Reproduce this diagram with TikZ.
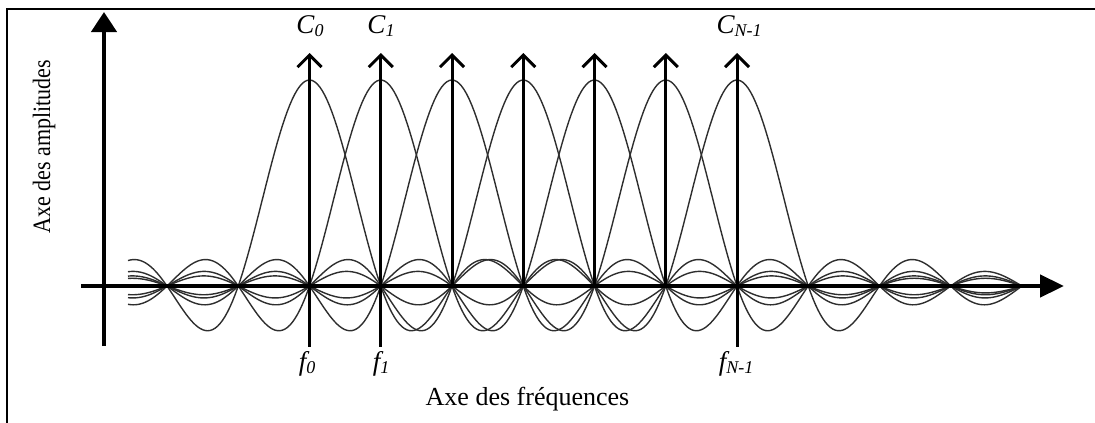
\documentclass[tikz,border=0pt]{standalone}
\usepackage{fontspec}
\setmainfont{Liberation Serif}
\usetikzlibrary{arrows.meta}
\newcommand\lowsub[1]{\raisebox{-3.5pt}{\fontsize{18}{18}\selectfont #1}}
\tikzset{
  sinccurve/.style={line width=1.4pt, draw=black!82, line join=round},
  carrier/.style={line width=3pt, -{Straight Barb[length=12pt,width=24pt]}},
  carrierstub/.style={line width=3pt},
  axisline/.style={line width=4.5pt},
  framebar/.style={line width=2.2pt},
  toplab/.style={font=\fontsize{27}{27}\selectfont\itshape, anchor=base, inner sep=0pt},
  axlab/.style={font=\fontsize{26}{26}\selectfont, anchor=base, inner sep=0pt}
}
\begin{document}
\begin{tikzpicture}[x=1pt,y=-1pt,
  declare function={sinc(\u)=(abs(\u)<0.02)*(1-(pi*\u)*(pi*\u)/6)+(abs(\u)>=0.02)*sin(180*\u)/(pi*\u+(abs(\u)<0.02));}]
\useasboundingbox (0,0) rectangle (1095,423);
% frame (top and left edges)
\coordinate (fa) at (6.8,423);
\coordinate (fb) at (6.8,8.8);
\coordinate (fc) at (1095,8.8);
\draw[framebar] (fa) -- (fb) -- (fc);
% sinc curves
\foreach \k in {0,...,6}{
  \pgfmathsetmacro\c{309.5+71.25*\k}
  \draw[sinccurve] plot[domain=128:1022, samples=360] (\x, {286-206*sinc((\x-\c)/71.25)});
}
% axes
\coordinate (xa) at (81,286);
\coordinate (xb) at (1064,286);
\coordinate (ya) at (104,346);
\coordinate (yb) at (104,12);
\draw[axisline, -{Triangle[length=24pt,width=22pt]}] (xa) -- (xb);
\draw[axisline, -{Triangle[length=20pt,width=25pt]}] (ya) -- (yb);
% carriers
\foreach \k in {0,...,6}{
  \pgfmathsetmacro\c{309.5+71.25*\k}
  \coordinate (b\k) at (\c,286);
  \coordinate (t\k) at (\c,53);
  \coordinate (l\k) at (\c,347);
  \draw[carrier] (b\k) -- (t\k);
}
\foreach \k in {0,1,6}{
  \draw[carrierstub] (b\k) -- (l\k);
}
% labels
\node[toplab] (c0) at (310,33) {C\lowsub{0}};
\node[toplab] (c1) at (381,33) {C\lowsub{1}};
\node[toplab] (cn) at (739,33) {C\lowsub{N-1}};
\node[toplab] (f0) at (307,370) {f\lowsub{0}};
\node[toplab] (f1) at (381,370) {f\lowsub{1}};
\node[toplab] (fn) at (736,370) {f\lowsub{N-1}};
\node[axlab] (xlab) at (527.5,405) {Axe des fréquences};
\node[font=\fontsize{25}{25}\selectfont, rotate=90, inner sep=0pt] (ylab) at (44,146.5) {\scalebox{0.88}[1]{Axe des amplitudes}};
\end{tikzpicture}
\end{document}
